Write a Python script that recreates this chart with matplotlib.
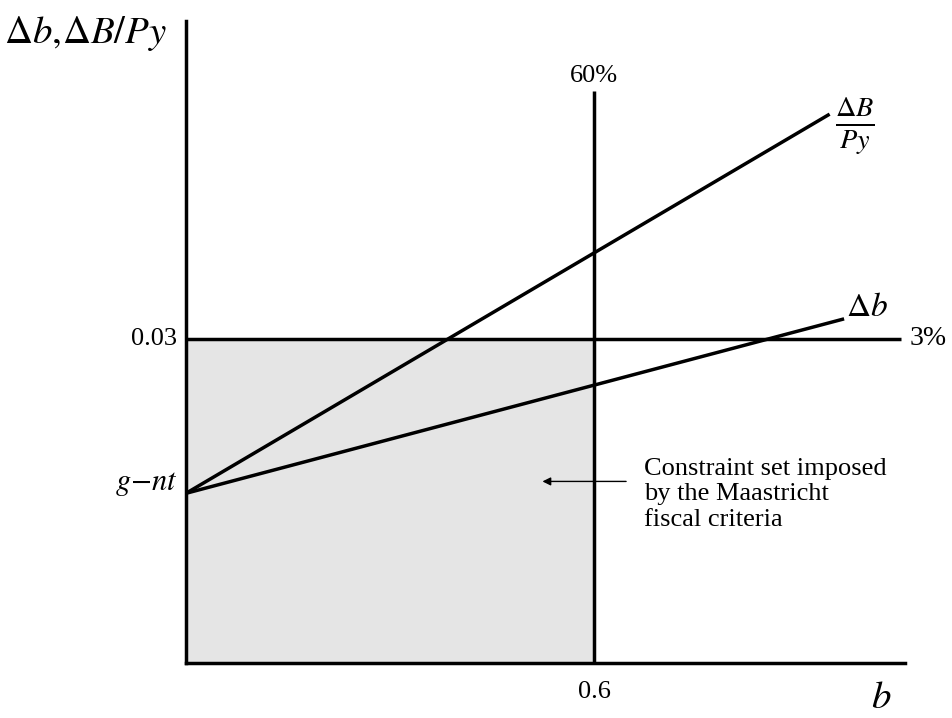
import matplotlib
matplotlib.use("Agg")
import matplotlib.pyplot as plt

# debt ratio b and deficit values
b_limit = 0.6           # 60% debt criterion
deficit_limit = 0.03    # 3% deficit criterion
g_minus_nt = 0.0157     # intercept g - nt
b_start = 0.0
b_end_B = 0.944         # end of the Delta B / Py line
b_end_db = 0.965        # end of the Delta b line
dB_end = 0.0507
db_end = 0.0318
x_max = 1.057
y_max = 0.0594
top_60 = 0.0529

plt.rcParams["mathtext.fontset"] = "stix"
plt.rcParams["font.family"] = ["Liberation Serif", "DejaVu Serif"]

fig = plt.figure(figsize=(9.52, 7.18), dpi=100)
ax = fig.add_axes([186 / 952, 55 / 718, 719 / 952, 642 / 718])
ax.set_xlim(0, x_max)
ax.set_ylim(0, y_max)

# shaded constraint set
ax.fill_between([0, b_limit], 0, deficit_limit, color="#e5e5e5", zorder=0, linewidth=0)

lw = 2.5
ax.plot([0, x_max * 0.994], [deficit_limit, deficit_limit], color="black", lw=lw, solid_capstyle="butt")
ax.plot([b_limit, b_limit], [0, top_60], color="black", lw=lw, solid_capstyle="butt")
ax.plot([b_start, b_end_B], [g_minus_nt, dB_end], color="black", lw=lw)
ax.plot([b_start, b_end_db], [g_minus_nt, db_end], color="black", lw=lw)

for side in ["top", "right"]:
    ax.spines[side].set_visible(False)
for side in ["left", "bottom"]:
    ax.spines[side].set_linewidth(lw)
ax.set_xticks([])
ax.set_yticks([])

# labels
ax.text(-0.267, 0.0582, r"$\Delta b,\!\Delta B/Py$", fontsize=28, ha="left", va="center")
ax.text(b_limit, top_60 + 0.0004, "60%", fontsize=19, ha="center", va="bottom")
ax.text(b_limit, -0.0017, "0.6", fontsize=19, ha="center", va="top")
ax.text(-0.013, deficit_limit, "0.03", fontsize=19, ha="right", va="center")
ax.text(-0.013, g_minus_nt + 0.0009, r"$g{-}nt$", fontsize=22, ha="right", va="center")
ax.text(x_max + 0.006, deficit_limit, "3%", fontsize=20, ha="left", va="center")
ax.text(b_end_B + 0.01, dB_end - 0.001, r"$\frac{\Delta B}{Py}$", fontsize=29, ha="left", va="center")
ax.text(b_end_db + 0.005, db_end + 0.0011, r"$\Delta b$", fontsize=24, ha="left", va="center")
ax.text(1.022, -0.0033, r"$b$", fontsize=28, ha="center", va="center")

ax.text(0.673, 0.0156, "Constraint set imposed\nby the Maastricht\nfiscal criteria",
        fontsize=19, ha="left", va="center", linespacing=1.2)
ax.annotate("", xy=(0.524, 0.0168), xytext=(0.647, 0.0168),
            arrowprops=dict(arrowstyle="-|>", color="black", lw=1.0,
                            mutation_scale=12, shrinkA=0, shrinkB=0))

fig.savefig("out.png", dpi=100)
